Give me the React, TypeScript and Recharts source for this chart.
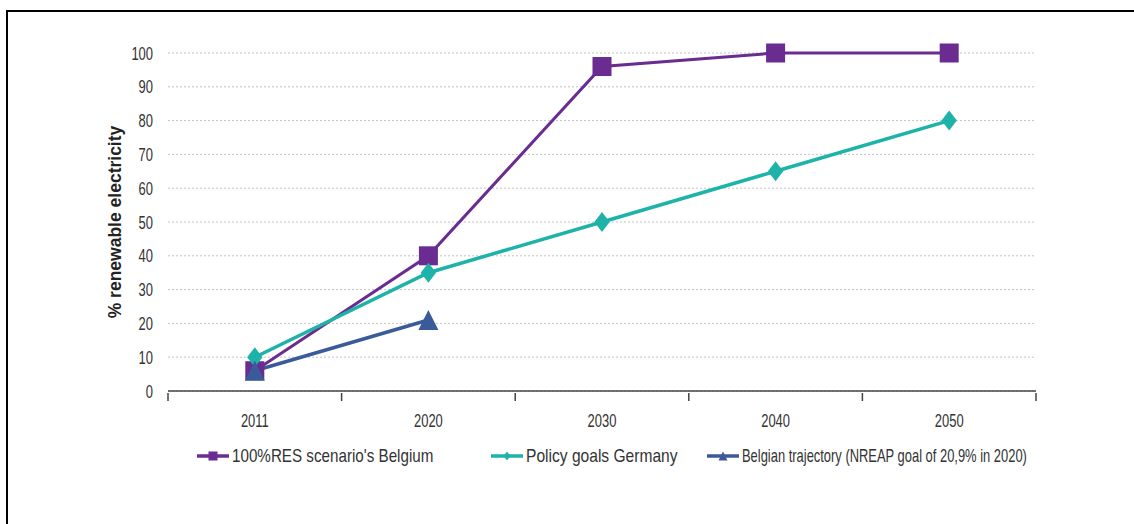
import React from 'react'
import { LineChart, Line, CartesianGrid, XAxis, YAxis, Legend, Label } from 'recharts'

const years = ['2011', '2020', '2030', '2040', '2050']
const resBelgium = [6, 40, 96, 100, 100]
const policyGermany = [10, 35, 50, 65, 80]
const belgianTrajectory = [6, 21, null, null, null]
const yTicks = [0, 10, 20, 30, 40, 50, 60, 70, 80, 90, 100]

const data = years.map((year, i) => ({
	year,
	res: resBelgium[i],
	germany: policyGermany[i],
	trajectory: belgianTrajectory[i],
}))

const PURPLE = '#6a2c91'
const TEAL = '#1db3a8'
const BLUE = '#3b5a9a'
const FONT = '"Liberation Sans", Arial, sans-serif'

const W = 1126
const H = 512
const PLOT_LEFT = 160
const PLOT_RIGHT = 1028
const HALF_BAND = (PLOT_RIGHT - PLOT_LEFT) / years.length / 2

const Square = ({ cx, cy, size = 18, color }: any) =>
	cx == null || cy == null ? null : (
		<rect x={cx - size / 2} y={cy - size / 2} width={size} height={size} fill={color} />
	)

const Diamond = ({ cx, cy, size = 18, color }: any) =>
	cx == null || cy == null ? null : (
		<polygon
			points={`${cx},${cy - size / 2} ${cx + size / 2.6},${cy} ${cx},${cy + size / 2} ${cx - size / 2.6},${cy}`}
			fill={color}
		/>
	)

const Triangle = ({ cx, cy, size = 20, color }: any) =>
	cx == null || cy == null ? null : (
		<polygon
			points={`${cx},${cy - size / 2} ${cx + size / 2},${cy + size / 2} ${cx - size / 2},${cy + size / 2}`}
			fill={color}
		/>
	)

// narrow text: Arial squeezed horizontally, like Arial Narrow
const NarrowText = ({ x, y, anchor, children }: any) => (
	<text
		transform={`translate(${x}, ${y}) scale(0.72, 1)`}
		textAnchor={anchor}
		fill="#333"
		fontSize={18}
		fontFamily={FONT}
	>
		{children}
	</text>
)

const XTick = ({ x, y, payload, index }: any) => (
	<g>
		<line x1={x - HALF_BAND} y1={y} x2={x - HALF_BAND} y2={y + 8} stroke="#444" strokeWidth={1.5} />
		{index === years.length - 1 && (
			<line x1={x + HALF_BAND} y1={y} x2={x + HALF_BAND} y2={y + 8} stroke="#444" strokeWidth={1.5} />
		)}
		<NarrowText x={x} y={y + 34} anchor="middle">
			{payload.value}
		</NarrowText>
	</g>
)

const YTick = ({ x, y, payload }: any) => (
	<NarrowText x={x} y={y + 6.5} anchor="end">
		{payload.value}
	</NarrowText>
)

const legendItems = [
	{ label: "100%RES scenario's Belgium", color: PURPLE, Marker: Square, width: 302, squeeze: 0.8 },
	{ label: 'Policy goals Germany', color: TEAL, Marker: Diamond, width: 216, squeeze: 0.82 },
	{ label: 'Belgian trajectory (NREAP goal of 20,9% in 2020)', color: BLUE, Marker: Triangle, width: 330, squeeze: 0.68 },
]

const LegendContent = () => (
	<div style={{ display: 'flex', height: 24, alignItems: 'center', paddingLeft: 188, fontFamily: FONT, fontSize: 19, color: '#333' }}>
		{legendItems.map(({ label, color, Marker, width, squeeze }) => (
			<div key={label} style={{ display: 'flex', alignItems: 'center', width }}>
				<svg width={34} height={14} style={{ marginRight: 2, flexShrink: 0 }}>
					<line x1={1} y1={7} x2={33} y2={7} stroke={color} strokeWidth={3.5} />
					<Marker cx={17} cy={7} size={9} color={color} />
				</svg>
				<span
					style={{
						display: 'inline-block',
						whiteSpace: 'nowrap',
						transform: `scaleX(${squeeze})`,
						transformOrigin: 'left center',
					}}
				>
					{label}
				</span>
			</div>
		))}
	</div>
)

export default function App() {
	return (
		<div
			style={{
				position: 'absolute',
				left: 6,
				top: 10,
				width: 1128,
				height: 514,
				borderTop: '2px solid #000',
				borderLeft: '2px solid #000',
				background: '#fff',
			}}
		>
			<LineChart width={W} height={H} data={data} margin={{ top: 41, right: W - PLOT_RIGHT, left: 0, bottom: 56 }}>
				<CartesianGrid vertical={false} stroke="#c4c4c4" strokeDasharray="2 2" />
				<XAxis
					dataKey="year"
					height={53}
					padding={{ left: HALF_BAND, right: HALF_BAND }}
					axisLine={{ stroke: '#444', strokeWidth: 1.5 }}
					tickLine={false}
					tickSize={0}
					tick={<XTick />}
					interval={0}
				/>
				<YAxis
					width={PLOT_LEFT}
					domain={[0, 100]}
					ticks={yTicks}
					axisLine={false}
					tickLine={false}
					tickMargin={9}
					tick={<YTick />}
				>
					<Label
						content={({ viewBox }: any) => {
							const x = viewBox.x + 113
							const y = viewBox.y + viewBox.height / 2
							return (
								<text
									x={x}
									y={y}
									transform={`rotate(-90, ${x}, ${y})`}
									textAnchor="middle"
									fontWeight="bold"
									fontSize={17.5}
									fill="#222"
									fontFamily={FONT}
								>
									% renewable electricity
								</text>
							)
						}}
					/>
				</YAxis>
				<Line
					dataKey="res"
					stroke={PURPLE}
					strokeWidth={3}
					dot={<Square color={PURPLE} size={19} />}
					activeDot={false}
					isAnimationActive={false}
				/>
				<Line
					dataKey="germany"
					stroke={TEAL}
					strokeWidth={3.5}
					dot={<Diamond color={TEAL} size={20} />}
					activeDot={false}
					isAnimationActive={false}
				/>
				<Line
					dataKey="trajectory"
					stroke={BLUE}
					strokeWidth={3.5}
					dot={<Triangle color={BLUE} size={20} />}
					activeDot={false}
					isAnimationActive={false}
				/>
				<Legend verticalAlign="bottom" content={<LegendContent />} />
			</LineChart>
		</div>
	)
}
